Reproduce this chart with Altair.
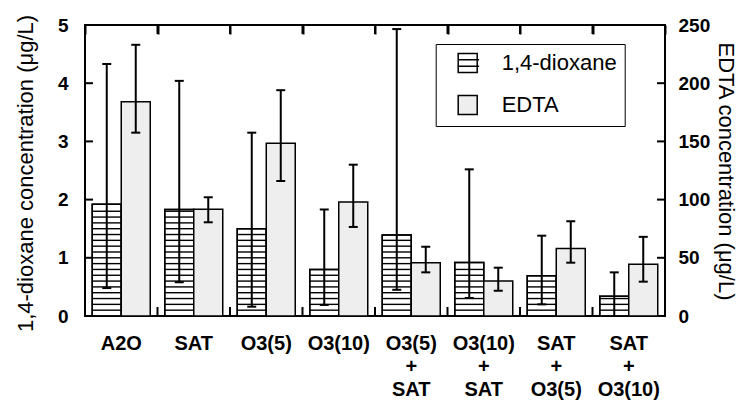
import altair as alt
import pandas as pd

FONT = "Liberation Sans"

categories = ["A2O", "SAT", "O3(5)", "O3(10)", "O3(5)|+|SAT", "O3(10)|+|SAT",
              "SAT|+|O3(5)", "SAT|+|O3(10)"]
series = ["1,4-dioxane", "EDTA"]

dioxane = [1.92, 1.83, 1.50, 0.80, 1.39, 0.92, 0.69, 0.34]
diox_lo = [0.48, 0.58, 0.16, 0.19, 0.45, 0.31, 0.20, 0.0]
diox_hi = [4.33, 4.04, 3.15, 1.83, 4.93, 2.52, 1.38, 0.75]

edta = [184, 91.7, 148.4, 98, 45.8, 30, 58, 44.4]
edta_lo = [157.5, 80.5, 116, 76.5, 37.5, 21.7, 45.8, 29.5]
edta_hi = [233, 102, 194, 130, 59.5, 41.5, 81.4, 68]

left_ticks = [0, 1, 2, 3, 4, 5]
right_ticks = [0, 50, 100, 150, 200, 250]
hatch_step = 0.1

W, H = 580, 291
TICK = 8

diox_df = pd.DataFrame({"cat": categories, "series": series[0], "value": dioxane,
                        "lo": diox_lo, "hi": diox_hi})
edta_df = pd.DataFrame({"cat": categories, "series": series[1], "value": edta,
                        "lo": edta_lo, "hi": edta_hi})

hatch_df = pd.DataFrame([
    {"cat": c, "series": series[0], "y": round(k * hatch_step, 3)}
    for c, v in zip(categories, dioxane)
    for k in range(1, int(v / hatch_step - 0.3) + 1)
])

def caps(df):
    rows = []
    for _, r in df.iterrows():
        for key in ("lo", "hi"):
            if r[key] > 0:
                rows.append({"cat": r["cat"], "series": r["series"], "y": r[key]})
    return pd.DataFrame(rows)

diox_caps = caps(diox_df)
edta_caps = caps(edta_df)
legend_df = pd.DataFrame({"series": series})
cat_df = pd.DataFrame({"cat": categories[1:]})
lt_df = pd.DataFrame({"v": left_ticks[1:-1]})
rt_df = pd.DataFrame({"v": right_ticks[1:-1]})

x_scale = alt.Scale(domain=categories, paddingInner=0, paddingOuter=0)
xo = alt.XOffset("series:N", scale=alt.Scale(domain=series, paddingInner=0, paddingOuter=0.25))

def X(axis=None):
    return alt.X("cat:N", sort=categories, scale=x_scale, axis=axis)

x_bottom = alt.Axis(orient="bottom", title=None, labelExpr="split(datum.label, '|')",
                    labelAngle=0, labelFont=FONT, labelFontSize=20, labelFontWeight="bold",
                    labelColor="black", labelLineHeight=23, labelBaseline="top",
                    labelPadding=17, ticks=False, tickSize=0, domain=False, grid=False,
                    labelOverlap=False)
x_top = alt.Axis(orient="top", title=None, labels=False, tickBand="extent", tickSize=9,
                 tickWidth=2, tickColor="black", offset=-9, domain=False, grid=False)

ly_scale = alt.Scale(domain=[0, 5], nice=False, zero=True)
ry_scale = alt.Scale(domain=[0, 250], nice=False, zero=True)

y_left = alt.Axis(orient="left", values=left_ticks, format="d", ticks=False, tickSize=0,
                  domain=False, grid=False, labelPadding=17,
                  labelFont=FONT, labelFontSize=19, labelFontWeight="bold", labelColor="black",
                  title="1,4-dioxane concentration (μg/L)", titleFont=FONT, titleFontSize=22,
                  titleFontWeight="normal", titleColor="black", titleAngle=-90,
                  titleX=-60, titleY=148, titleAlign="center", titleBaseline="middle")
y_right = alt.Axis(orient="right", values=right_ticks, format="d", ticks=False, tickSize=0,
                   domain=False, grid=False, labelPadding=13,
                   labelFont=FONT, labelFontSize=19, labelFontWeight="bold", labelColor="black",
                   title="EDTA concentration (μg/L)", titleFont=FONT, titleFontSize=22,
                   titleFontWeight="normal", titleColor="black", titleAngle=90,
                   titleX=60, titleY=146, titleAlign="center", titleBaseline="middle")

hatch_path = "M-1,-1H1V1H-1Z M-1,-0.33H1.2 M-1,0.33H1.2"
leg = alt.Legend(title=None, orient="none", legendX=350.7, legendY=19, padding=8,
                 rowPadding=16, symbolOffset=13, symbolSize=361,
                 symbolStrokeWidth=1.5, symbolOpacity=1, labelFont=FONT, labelFontSize=22,
                 labelColor="black", labelOffset=23, strokeColor="black", fillColor="white")

def LY(field):
    return alt.Y(field, scale=ly_scale, axis=None)

def RY(field):
    return alt.Y(field, scale=ry_scale, axis=None)

# 1,4-dioxane (left axis)
d_bars = alt.Chart(diox_df).mark_bar(fill="white", stroke="black", strokeWidth=1.5).encode(
    x=X(x_bottom), xOffset=xo, y=alt.Y("value:Q", scale=ly_scale, axis=y_left))
d_hatch = alt.Chart(hatch_df).mark_tick(orient="horizontal", size=29, thickness=1.4,
                                        color="black", opacity=1).encode(
    x=X(), xOffset=xo, y=LY("y:Q"))
d_outline = alt.Chart(diox_df).mark_bar(fillOpacity=0, stroke="black", strokeWidth=1.5).encode(
    x=X(), xOffset=xo, y=LY("value:Q"))
d_err = alt.Chart(diox_df).mark_rule(color="black", strokeWidth=2).encode(
    x=X(), xOffset=xo, y=LY("lo:Q"), y2="hi:Q")
d_caps = alt.Chart(diox_caps).mark_tick(orient="horizontal", size=9, thickness=2,
                                        color="black", opacity=1).encode(
    x=X(), xOffset=xo, y=LY("y:Q"))

# EDTA (right axis)
e_bars = alt.Chart(edta_df).mark_bar(fill="#eeeeee", stroke="black", strokeWidth=1.5).encode(
    x=X(x_top), xOffset=xo, y=alt.Y("value:Q", scale=ry_scale, axis=y_right))
e_err = alt.Chart(edta_df).mark_rule(color="black", strokeWidth=2).encode(
    x=X(), xOffset=xo, y=RY("lo:Q"), y2="hi:Q")
e_caps = alt.Chart(edta_caps).mark_tick(orient="horizontal", size=9, thickness=2,
                                        color="black", opacity=1).encode(
    x=X(), xOffset=xo, y=RY("y:Q"))

# inward tick marks (at category boundaries and y tick values)
xt_top = alt.Chart(cat_df).mark_rule(color="black", strokeWidth=2).encode(
    x=alt.X("cat:N", sort=categories, scale=x_scale, axis=None, bandPosition=0),
    y=alt.value(0), y2=alt.value(TICK + 1))
xt_bot = alt.Chart(cat_df).mark_rule(color="black", strokeWidth=2).encode(
    x=alt.X("cat:N", sort=categories, scale=x_scale, axis=None, bandPosition=0),
    y=alt.value(H - TICK - 1), y2=alt.value(H))
yt_left = alt.Chart(lt_df).mark_rule(color="black", strokeWidth=2).encode(
    y=LY("v:Q"), x=alt.value(0), x2=alt.value(TICK))
yt_right = alt.Chart(rt_df).mark_rule(color="black", strokeWidth=2).encode(
    y=RY("v:Q"), x=alt.value(W - TICK), x2=alt.value(W))

legend_layer = alt.Chart(legend_df).mark_point(filled=True, opacity=0).encode(
    x=alt.value(0), y=alt.value(0),
    fill=alt.Fill("series:N", scale=alt.Scale(domain=series, range=["white", "#eeeeee"]), legend=leg),
    stroke=alt.Stroke("series:N", scale=alt.Scale(domain=series, range=["black", "black"]), legend=leg),
    shape=alt.Shape("series:N", scale=alt.Scale(domain=series, range=[hatch_path, "square"]), legend=leg))

chart = alt.layer(
    d_bars, d_hatch, d_outline, d_err, d_caps, e_bars, e_err, e_caps,
    xt_top, xt_bot, yt_left, yt_right, legend_layer
).resolve_scale(y="independent").properties(
    width=W, height=H,
    autosize=alt.AutoSizeParams(type="none"),
    padding={"left": 77, "top": 17, "right": 75, "bottom": 86},
    background="white",
).configure_view(stroke="black", strokeWidth=2)

chart.save("out.html", embed_options={"renderer": "svg", "actions": False})
